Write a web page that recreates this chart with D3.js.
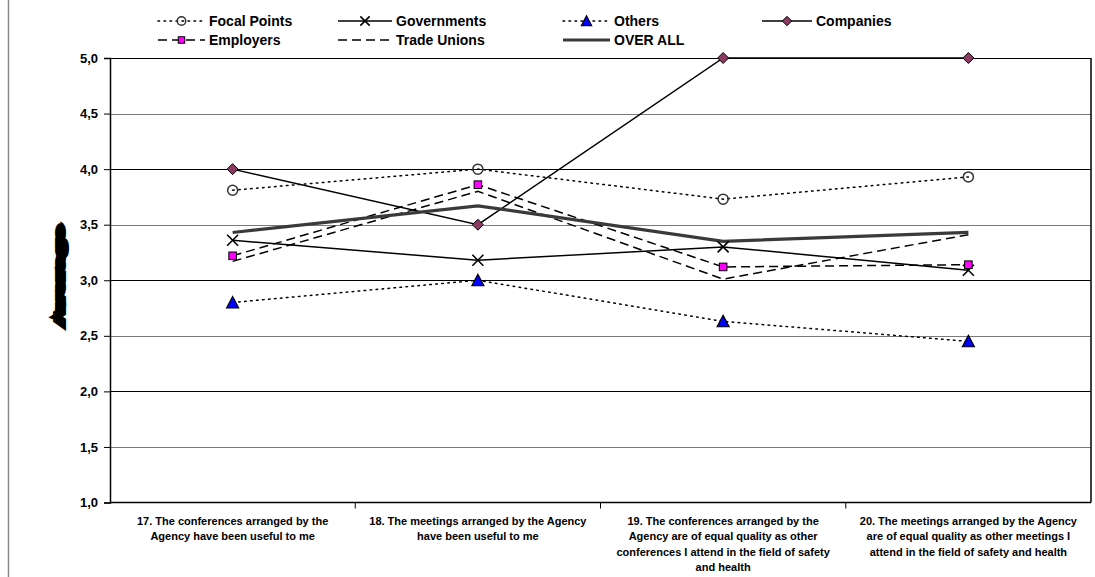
<!DOCTYPE html>
<html>
<head>
<meta charset="utf-8">
<script src="https://cdn.jsdelivr.net/npm/d3@7"></script>
<style>
  html, body { margin: 0; padding: 0; background: #fff; }
  svg { display: block; font-family: "Liberation Sans", Arial, sans-serif; }
</style>
</head>
<body>
<svg id="chart" width="1095" height="577"></svg>
<script>
// Questions (x categories), each label split into its wrapped lines
const categories = ["Q17", "Q18", "Q19", "Q20"];
const categoryLabels = [
  ["17. The conferences arranged by the", "Agency have been useful to me"],
  ["18. The meetings arranged by the Agency", "have been useful to me"],
  ["19. The conferences arranged by the", "Agency are of equal quality as other", "conferences I attend in the field of safety", "and health"],
  ["20. The meetings arranged by the Agency", "are of equal quality as other meetings I", "attend in the field of safety and health"]
];

// Average scores per respondent group
const focalPoints  = [3.81, 4.00, 3.73, 3.93];
const governments  = [3.36, 3.18, 3.30, 3.09];
const others       = [2.80, 3.00, 2.63, 2.45];
const companies    = [4.00, 3.50, 5.00, 5.00];
const employers    = [3.22, 3.86, 3.12, 3.14];
const tradeUnions  = [3.17, 3.80, 3.01, 3.41];
const overAll      = [3.43, 3.67, 3.35, 3.43];

const yTicks = [1, 1.5, 2, 2.5, 3, 3.5, 4, 4.5, 5];

const series = [
  { name: "Focal Points", values: focalPoints, stroke: "#000", width: 1.5, dash: "1.6,4.4", cap: "round", marker: "circle" },
  { name: "Governments",  values: governments, stroke: "#000", width: 1.5, dash: null, marker: "cross" },
  { name: "Others",       values: others,      stroke: "#000", width: 1.5, dash: "1.6,4.4", cap: "round", marker: "triangle" },
  { name: "Companies",    values: companies,   stroke: "#000", width: 1.5, dash: null, marker: "diamond" },
  { name: "Employers",    values: employers,   stroke: "#000", width: 1.5, dash: "9,5", marker: "square" },
  { name: "Trade Unions", values: tradeUnions, stroke: "#000", width: 1.5, dash: "9,5", marker: null },
  { name: "OVER ALL",     values: overAll,     stroke: "#3a3a3a", width: 3.2, dash: null, marker: null }
];

const svg = d3.select("#chart");
const plot = { left: 110, right: 1091, top: 58, bottom: 502.5 };

const x = d3.scaleBand().domain(categories).range([plot.left, plot.right]);
const y = d3.scaleLinear().domain([1, 5]).range([plot.bottom, plot.top]);
const cx = c => x(c) + x.bandwidth() / 2;

// outer frame edge on the left
svg.append("line").attr("x1", 8.5).attr("x2", 8.5).attr("y1", 0).attr("y2", 577)
  .attr("stroke", "#8a8a8a").attr("stroke-width", 1.5);

// horizontal gridlines
svg.append("g").selectAll("line").data(yTicks.filter(t => t > 1)).join("line")
  .attr("x1", plot.left).attr("x2", plot.right)
  .attr("y1", d => Math.round(y(d)) + 0.5).attr("y2", d => Math.round(y(d)) + 0.5)
  .attr("stroke", d => Number.isInteger(d) ? "#000" : "#7a7a7a")
  .attr("stroke-width", 1).attr("shape-rendering", "crispEdges");

// right border of plot
svg.append("line").attr("x1", plot.right).attr("x2", plot.right)
  .attr("y1", plot.top).attr("y2", plot.bottom)
  .attr("stroke", "#000").attr("stroke-width", 1.5);

// y axis
const yAxis = d3.axisLeft(y).tickValues(yTicks).tickSize(6).tickPadding(6)
  .tickFormat(d => d.toFixed(1).replace(".", ","));
const gy = svg.append("g").attr("transform", `translate(${plot.left},0)`).call(yAxis);
gy.select(".domain").attr("stroke", "#000").attr("stroke-width", 1.5);
gy.selectAll(".tick line").attr("stroke", "#000");
gy.selectAll(".tick text").attr("font-size", 13).attr("font-weight", "bold").attr("fill", "#000")
  .attr("font-family", "'Liberation Sans', Arial, sans-serif");

// x axis with ticks at category boundaries
const gx = svg.append("g").attr("transform", `translate(0,${plot.bottom})`);
gx.append("line").attr("x1", plot.left).attr("x2", plot.right).attr("y1", 0).attr("y2", 0)
  .attr("stroke", "#000").attr("stroke-width", 1.5);
gx.selectAll("line.tk").data(categories.slice(1)).join("line").attr("class", "tk")
  .attr("x1", d => x(d)).attr("x2", d => x(d)).attr("y1", 0).attr("y2", 6)
  .attr("stroke", "#000");
const labels = gx.selectAll("text.cat").data(categories).join("text").attr("class", "cat")
  .attr("x", d => cx(d)).attr("y", 22)
  .attr("text-anchor", "middle").attr("font-size", 11).attr("font-weight", "bold").attr("fill", "#000");
labels.each(function(d, i) {
  d3.select(this).selectAll("tspan").data(categoryLabels[i]).join("tspan")
    .attr("x", cx(d)).attr("dy", (t, j) => j === 0 ? 0 : 15.5).text(t => t);
});

// y axis title, rendered very heavy and condensed
svg.append("text")
  .attr("transform", "translate(64,276) rotate(-90)")
  .attr("text-anchor", "middle")
  .attr("font-size", 13).attr("font-weight", "bold")
  .attr("textLength", 100).attr("lengthAdjust", "spacingAndGlyphs")
  .attr("fill", "#000").attr("stroke", "#000").attr("stroke-width", 4).attr("stroke-linejoin", "miter")
  .text("Average");

// lines
const line = d3.line().x((v, i) => cx(categories[i])).y(v => y(v));
svg.append("g").selectAll("path").data(series).join("path")
  .attr("d", s => line(s.values))
  .attr("fill", "none")
  .attr("stroke", s => s.stroke)
  .attr("stroke-width", s => s.width)
  .attr("stroke-dasharray", s => s.dash)
  .attr("stroke-linecap", s => s.cap || "butt");

// marker drawing
function drawMarker(g, type, px, py, scale = 1) {
  if (type === "circle") {
    g.append("circle").attr("cx", px).attr("cy", py).attr("r", 5 * scale)
      .attr("fill", "none").attr("stroke", "#333").attr("stroke-width", 1.5);
  } else if (type === "cross") {
    const s = 5.5 * scale;
    g.append("path").attr("d", `M${px - s},${py - s}L${px + s},${py + s}M${px - s},${py + s}L${px + s},${py - s}`)
      .attr("stroke", "#000").attr("stroke-width", 1.6);
  } else if (type === "triangle") {
    const s = 6 * scale;
    g.append("path").attr("d", `M${px},${py - s}L${px + s},${py + s * 0.9}L${px - s},${py + s * 0.9}Z`)
      .attr("fill", "#0000ff").attr("stroke", "#000").attr("stroke-width", 1.2);
  } else if (type === "diamond") {
    const s = 5.5 * scale;
    g.append("path").attr("d", `M${px},${py - s}L${px + s},${py}L${px},${py + s}L${px - s},${py}Z`)
      .attr("fill", "#8b3a62").attr("stroke", "#000").attr("stroke-width", 1);
  } else if (type === "square") {
    const s = 3.8 * scale;
    g.append("rect").attr("x", px - s).attr("y", py - s).attr("width", 2 * s).attr("height", 2 * s)
      .attr("fill", "#ff00ff").attr("stroke", "#000").attr("stroke-width", 1);
  }
}

const markers = svg.append("g");
series.filter(s => s.marker).forEach(s => {
  s.values.forEach((v, i) => drawMarker(markers, s.marker, cx(categories[i]), y(v)));
});

// legend
const legendPos = [
  [158, 21], [338, 21], [563, 21], [762, 21],
  [158, 40], [338, 40], [563, 40]
];
const legend = svg.append("g");
series.forEach((s, i) => {
  const [lx, ly] = legendPos[i];
  const w = i === 1 || i === 5 ? 54 : (i === 3 ? 50 : 47);
  legend.append("line").attr("x1", lx).attr("x2", lx + w).attr("y1", ly).attr("y2", ly)
    .attr("stroke", s.stroke).attr("stroke-width", s.width)
    .attr("stroke-dasharray", s.dash).attr("stroke-linecap", s.cap || "butt");
  if (s.marker) drawMarker(legend, s.marker, lx + w / 2, ly, 0.85);
  legend.append("text").attr("x", lx + w + 4).attr("y", ly).attr("dy", "0.36em")
    .attr("font-size", 14).attr("font-weight", "bold").attr("fill", "#000")
    .text(s.name);
});
</script>
</body>
</html>
